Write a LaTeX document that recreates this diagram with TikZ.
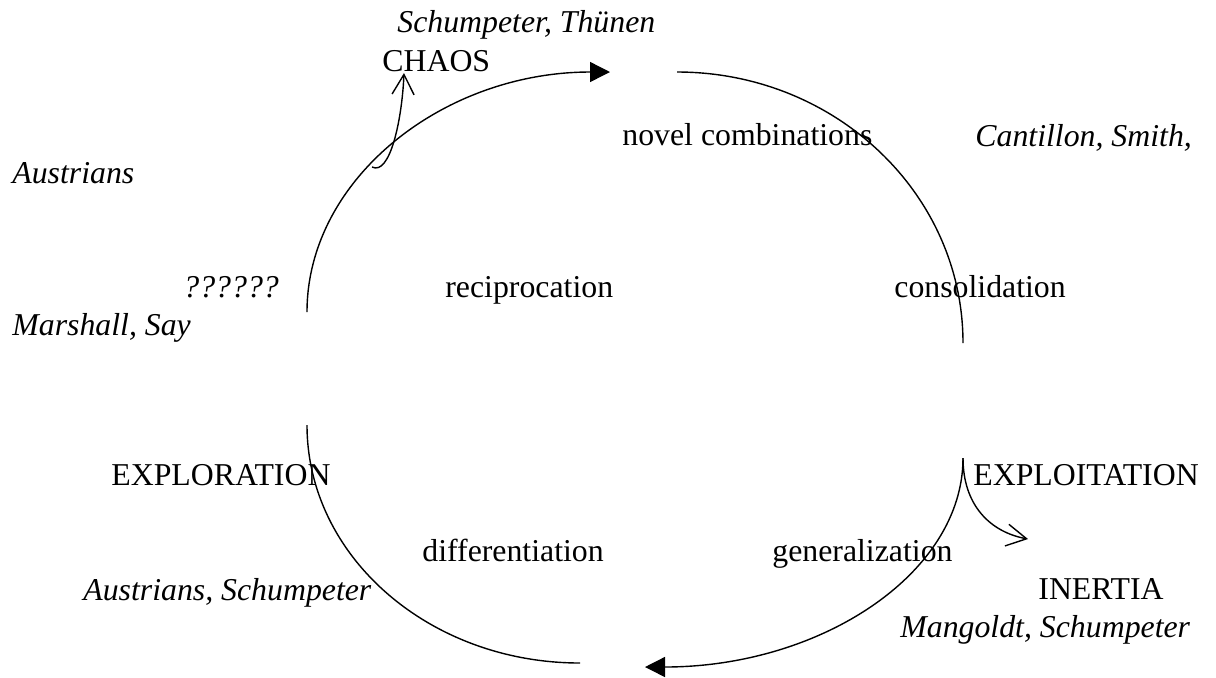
\documentclass[tikz,border=0pt]{standalone}
\usepackage{fontspec}
\setmainfont{Liberation Serif}
\usetikzlibrary{arrows.meta}
\begin{document}
\begin{tikzpicture}[x=0.5pt,y=-0.5pt,
  lbl/.style={anchor=base west,inner sep=0pt,font=\fontsize{15.9}{18}\selectfont},
  auth/.style={anchor=base west,inner sep=0pt,font=\fontsize{15.9}{18}\selectfont\itshape},
  cyc/.style={line width=0.7pt},
  bigtip/.style={-{Triangle[length=10pt,width=10pt]}},
  opentip/.style={-{Straight Barb[length=10pt,width=11pt,line width=0.7pt]}}]
\path[use as bounding box] (0,0) rectangle (1216,677);
% arc endpoints
\coordinate (tlS) at (307,312);
\coordinate (trS) at (677,72);
\coordinate (brS) at (963,458);
\coordinate (blS) at (307,425);
% cycle arcs
\draw[cyc,bigtip] (tlS) arc[start angle=180,end angle=90,x radius=151.5pt,y radius=120pt] coordinate (tlE);
\draw[cyc] (trS) arc[start angle=90,end angle=0,x radius=143pt,y radius=135.5pt] coordinate (trE);
\draw[cyc,bigtip] (brS) arc[start angle=0,end angle=-90,x radius=159pt,y radius=104.5pt] coordinate (brE);
\draw[cyc] (blS) arc[start angle=180,end angle=270,x radius=136.5pt,y radius=119pt] coordinate (blE);
% labels
\node[auth] (schth) at (397,32) {Schumpeter, Thünen};
\node[lbl] (chaos) at (382,71) {CHAOS};
\node[lbl] (novel) at (622,145) {novel combinations};
\node[auth] (cant) at (975,146) {Cantillon, Smith,};
\node[auth] (aus1) at (12,183) {Austrians};
\node[auth] (qq) at (183,297) {??????};
\node[lbl] (recip) at (445,297) {reciprocation};
\node[lbl] (consol) at (894,297) {consolidation};
\node[auth] (marsh) at (12,335) {Marshall, Say};
\node[lbl] (explor) at (111,485) {EXPLORATION};
\node[lbl] (exploit) at (973,485) {EXPLOITATION};
\node[lbl] (diff) at (422,561) {differentiation};
\node[lbl] (gen) at (772,561) {generalization};
\node[auth] (aus2) at (83,600) {Austrians, Schumpeter};
\node[lbl] (inert) at (1038,599) {INERTIA};
\node[auth] (mang) at (900,637) {Mangoldt, Schumpeter};
% side arrows
\coordinate (chS) at (372,167);
\coordinate (chE) at (404,73);
\draw[cyc,opentip] (chS) .. controls (390,176) and (402,120) .. (chE);
\coordinate (inE) at (1028,539);
\draw[cyc,opentip] (brS) .. controls (963,505) and (990,532) .. (inE);
\end{tikzpicture}
\end{document}
